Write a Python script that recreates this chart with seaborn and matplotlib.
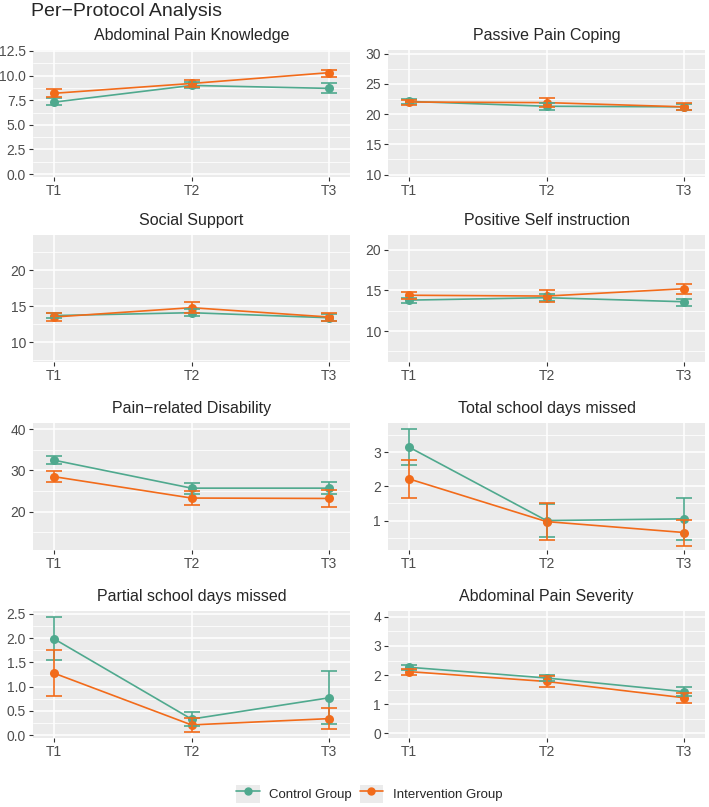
import numpy as np
import pandas as pd
import matplotlib.pyplot as plt
import matplotlib.ticker as mticker
from matplotlib.lines import Line2D
from matplotlib.patches import Patch
from matplotlib.legend_handler import HandlerTuple
import seaborn as sns

# values (mean, lower CI, upper CI)
times = ['T1', 'T2', 'T3']
groups = ['Control Group', 'Intervention Group']

titles = ['Abdominal Pain Knowledge', 'Passive Pain Coping',
          'Social Support', 'Positive Self instruction',
          'Pain\u2212related Disability', 'Total school days missed',
          'Partial school days missed', 'Abdominal Pain Severity']

ctrl_mean = [[7.3, 9.0, 8.7], [22.1, 21.3, 21.2], [13.7, 14.1, 13.4], [13.8, 14.1, 13.6],
             [32.5, 25.7, 25.7], [3.15, 1.0, 1.05], [1.99, 0.33, 0.77], [2.27, 1.90, 1.43]]
ctrl_lo = [[7.0, 8.7, 8.2], [21.7, 20.7, 20.7], [13.3, 13.6, 13.0], [13.5, 13.7, 13.1],
           [31.5, 24.3, 24.2], [2.62, 0.53, 0.43], [1.54, 0.19, 0.22], [2.18, 1.80, 1.28]]
ctrl_hi = [[7.7, 9.3, 9.2], [22.5, 21.9, 21.7], [14.1, 14.6, 13.9], [14.1, 14.5, 14.0],
           [33.5, 27.0, 27.1], [3.68, 1.47, 1.66], [2.44, 0.47, 1.32], [2.36, 2.00, 1.58]]

int_mean = [[8.2, 9.2, 10.3], [22.0, 21.9, 21.2], [13.5, 14.8, 13.5], [14.4, 14.3, 15.2],
            [28.5, 23.3, 23.2], [2.22, 0.97, 0.65], [1.28, 0.21, 0.34], [2.12, 1.78, 1.22]]
int_lo = [[7.8, 8.8, 9.9], [21.5, 21.2, 20.6], [13.0, 14.0, 12.9], [13.9, 13.6, 14.6],
          [27.1, 21.5, 21.2], [1.65, 0.42, 0.27], [0.81, 0.06, 0.13], [2.02, 1.60, 1.03]]
int_hi = [[8.6, 9.6, 10.6], [22.4, 22.6, 21.8], [14.0, 15.6, 14.1], [14.8, 15.0, 15.8],
          [29.8, 25.1, 25.2], [2.78, 1.51, 1.02], [1.75, 0.36, 0.55], [2.22, 1.96, 1.40]]

y_limits = [(-0.3, 12.6), (9.6, 30.6), (7.25, 24.9), (6.2, 21.8),
            (10.7, 41.5), (0.14, 3.85), (-0.06, 2.56), (-0.16, 4.2)]
y_steps = [2.5, 5, 5, 5, 10, 1, 0.5, 1]

colors = {'Control Group': '#4fa98e', 'Intervention Group': '#f26b1a'}

rows = []
for i, t in enumerate(titles):
    for g, m, lo, hi in [('Control Group', ctrl_mean, ctrl_lo, ctrl_hi),
                         ('Intervention Group', int_mean, int_lo, int_hi)]:
        for j, tp in enumerate(times):
            rows.append(dict(measure=t, group=g, time=tp, mean=m[i][j], lo=lo[i][j], hi=hi[i][j]))
df = pd.DataFrame(rows)

sns.set_theme(style='darkgrid', rc={
    'axes.facecolor': '#EBEBEB', 'grid.color': 'white', 'axes.edgecolor': '#EBEBEB',
    'xtick.color': '#333333', 'ytick.color': '#333333',
    'xtick.labelcolor': '#4D4D4D', 'ytick.labelcolor': '#4D4D4D'})
plt.rcParams['font.family'] = ['Liberation Sans', 'DejaVu Sans']

fig = plt.figure(figsize=(7.09, 8.07), dpi=100)
W, H = 709, 807
col_x = [33, 388]
row_y = [50, 235, 423, 611]
pw, ph = 317, 127

for i, t in enumerate(titles):
    r, c = divmod(i, 2)
    ax = fig.add_axes([col_x[c] / W, 1 - (row_y[r] + ph) / H, pw / W, ph / H])
    sub = df[df['measure'] == t]
    sns.lineplot(data=sub, x='time', y='mean', hue='group', hue_order=groups,
                 palette=colors, marker='o', markersize=6.5, markeredgewidth=0,
                 linewidth=1.2, errorbar=None, legend=False, ax=ax, sort=False)
    for g in groups:
        s = sub[sub['group'] == g]
        xs = np.arange(len(s))
        ax.errorbar(xs, s['mean'], yerr=[s['mean'] - s['lo'], s['hi'] - s['mean']],
                    fmt='none', ecolor=colors[g], elinewidth=1.2, capsize=6, capthick=1.2)
    ax.set_xlim(-0.15, 2.15)
    ax.set_ylim(*y_limits[i])
    ax.yaxis.set_major_locator(mticker.MultipleLocator(y_steps[i]))
    ax.yaxis.set_minor_locator(mticker.MultipleLocator(y_steps[i] / 2))
    if y_steps[i] % 1 != 0:
        ax.yaxis.set_major_formatter(mticker.FormatStrFormatter('%.1f'))
    else:
        ax.yaxis.set_major_formatter(mticker.FormatStrFormatter('%g'))
    ax.grid(which='major', color='white', linewidth=1.1)
    ax.grid(which='minor', axis='y', color='white', linewidth=0.55)
    ax.tick_params(axis='both', which='major', bottom=True, left=True,
                   length=3, width=0.8, labelsize=10, pad=2)
    ax.tick_params(axis='y', which='minor', length=0)
    ax.set_xlabel('')
    ax.set_ylabel('')
    ax.set_title(t, fontsize=11.5, pad=7)
    for sp in ax.spines.values():
        sp.set_visible(False)

fig.text(31 / W, 1 - 12 / H, 'Per\u2212Protocol Analysis', fontsize=14, va='center', ha='left')

handles = [(Patch(facecolor='#EBEBEB', edgecolor='none'),
            Line2D([0], [0], color=colors[g], marker='o', markersize=5, linewidth=1.2))
           for g in groups]
fig.legend(handles, groups, loc='center', bbox_to_anchor=(369 / W, 1 - 794 / H), ncol=2,
           frameon=False, fontsize=9.5, handlelength=1.8, handleheight=1.8,
           columnspacing=0.6, handletextpad=0.7,
           handler_map={tuple: HandlerTuple(ndivide=1, pad=0)})

fig.savefig('out.png', dpi=100)
